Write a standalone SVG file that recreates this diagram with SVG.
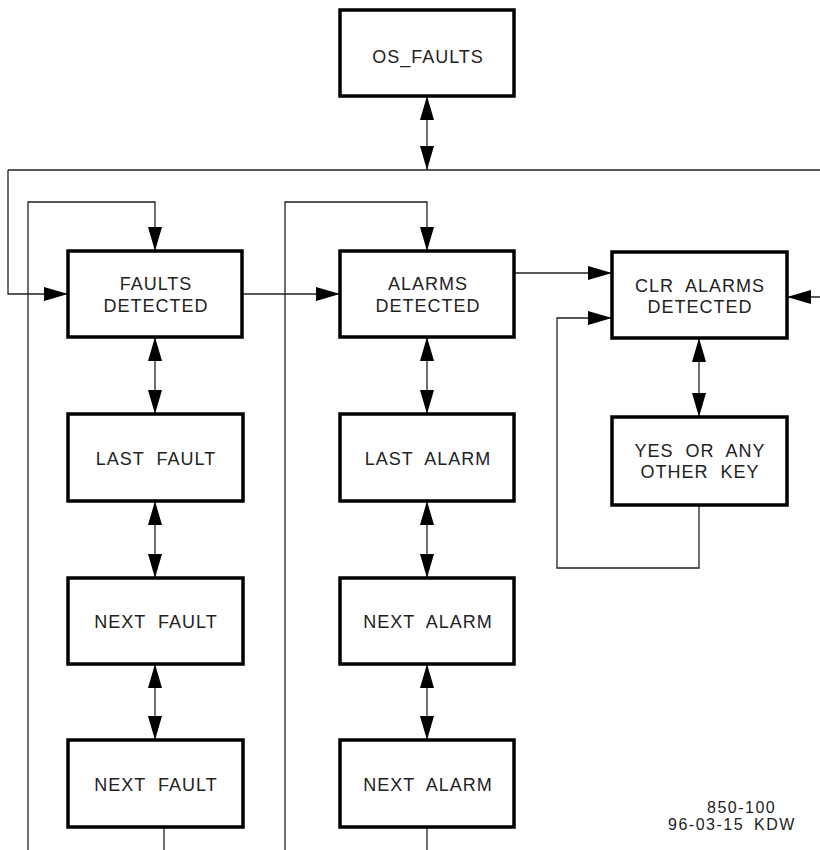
<svg xmlns="http://www.w3.org/2000/svg" width="820" height="850" viewBox="0 0 820 850">
<style>
.box{fill:#fff;stroke:#000;stroke-width:3.5}
.ln{fill:none;stroke:#222;stroke-width:1.3}
.t{font-family:"Liberation Sans",Arial,sans-serif;font-size:18px;fill:#222;text-anchor:middle;letter-spacing:1px;word-spacing:6px}
.f{font-family:"Liberation Sans",Arial,sans-serif;font-size:16px;fill:#222;letter-spacing:1.5px;word-spacing:4px}
</style>
<defs>
<marker id="ah" viewBox="0 0 24 14" refX="24" refY="7" markerWidth="24" markerHeight="14" markerUnits="userSpaceOnUse" orient="auto-start-reverse">
<path d="M0,0 L24,7 L0,14 Z" fill="#000"/>
</marker>
</defs>
<rect width="820" height="850" fill="#fff"/>
<g id="connectors">
<line class="ln" x1="427" y1="96" x2="427" y2="170" marker-start="url(#ah)" marker-end="url(#ah)"/>
<line class="ln" x1="8" y1="170" x2="820" y2="170"/>
<polyline class="ln" points="8,170 8,294 68,294" marker-end="url(#ah)"/>
<polyline class="ln" points="28,850 28,202 155,202 155,251" marker-end="url(#ah)"/>
<line class="ln" x1="242" y1="294" x2="340" y2="294" marker-end="url(#ah)"/>
<polyline class="ln" points="285,850 285,202 427,202 427,251" marker-end="url(#ah)"/>
<line class="ln" x1="514" y1="273" x2="612" y2="273" marker-end="url(#ah)"/>
<line class="ln" x1="820" y1="297" x2="787" y2="297" marker-end="url(#ah)"/>
<polyline class="ln" points="699,505 699,568 557,568 557,318 612,318" marker-end="url(#ah)"/>
<line class="ln" x1="699" y1="338" x2="699" y2="417" marker-start="url(#ah)" marker-end="url(#ah)"/>
<line class="ln" x1="155" y1="337" x2="155" y2="414" marker-start="url(#ah)" marker-end="url(#ah)"/>
<line class="ln" x1="155" y1="501" x2="155" y2="578" marker-start="url(#ah)" marker-end="url(#ah)"/>
<line class="ln" x1="155" y1="664" x2="155" y2="740" marker-start="url(#ah)" marker-end="url(#ah)"/>
<line class="ln" x1="427" y1="337" x2="427" y2="414" marker-start="url(#ah)" marker-end="url(#ah)"/>
<line class="ln" x1="427" y1="501" x2="427" y2="578" marker-start="url(#ah)" marker-end="url(#ah)"/>
<line class="ln" x1="427" y1="664" x2="427" y2="740" marker-start="url(#ah)" marker-end="url(#ah)"/>
<line class="ln" x1="164" y1="827" x2="164" y2="850"/>
<line class="ln" x1="427" y1="827" x2="427" y2="850"/>
</g>
<g id="os_faults"><rect class="box" x="340" y="10" width="174" height="86"/><text class="t" x="428" y="63">OS_FAULTS</text></g>
<g id="faults_detected"><rect class="box" x="68" y="251" width="174" height="86"/><text class="t" x="156" y="290">FAULTS</text><text class="t" x="156" y="312">DETECTED</text></g>
<g id="alarms_detected"><rect class="box" x="340" y="251" width="174" height="86"/><text class="t" x="428" y="290">ALARMS</text><text class="t" x="428" y="312">DETECTED</text></g>
<g id="clr_alarms"><rect class="box" x="612" y="252" width="175" height="86"/><text class="t" x="700" y="292">CLR ALARMS</text><text class="t" x="700" y="313">DETECTED</text></g>
<g id="yes_key"><rect class="box" x="612" y="417" width="175" height="88"/><text class="t" x="700" y="457">YES OR ANY</text><text class="t" x="700" y="478">OTHER KEY</text></g>
<g id="last_fault"><rect class="box" x="68" y="414" width="175" height="87"/><text class="t" x="156" y="465">LAST FAULT</text></g>
<g id="next_fault1"><rect class="box" x="68" y="578" width="175" height="86"/><text class="t" x="156" y="628">NEXT FAULT</text></g>
<g id="next_fault2"><rect class="box" x="68" y="740" width="175" height="87"/><text class="t" x="156" y="791">NEXT FAULT</text></g>
<g id="last_alarm"><rect class="box" x="340" y="414" width="174" height="87"/><text class="t" x="428" y="465">LAST ALARM</text></g>
<g id="next_alarm1"><rect class="box" x="340" y="578" width="174" height="86"/><text class="t" x="428" y="628">NEXT ALARM</text></g>
<g id="next_alarm2"><rect class="box" x="340" y="740" width="174" height="87"/><text class="t" x="428" y="791">NEXT ALARM</text></g>
<g id="footer"><text class="f" x="707" y="813">850-100</text><text class="f" x="668" y="830">96-03-15 KDW</text></g>
</svg>
